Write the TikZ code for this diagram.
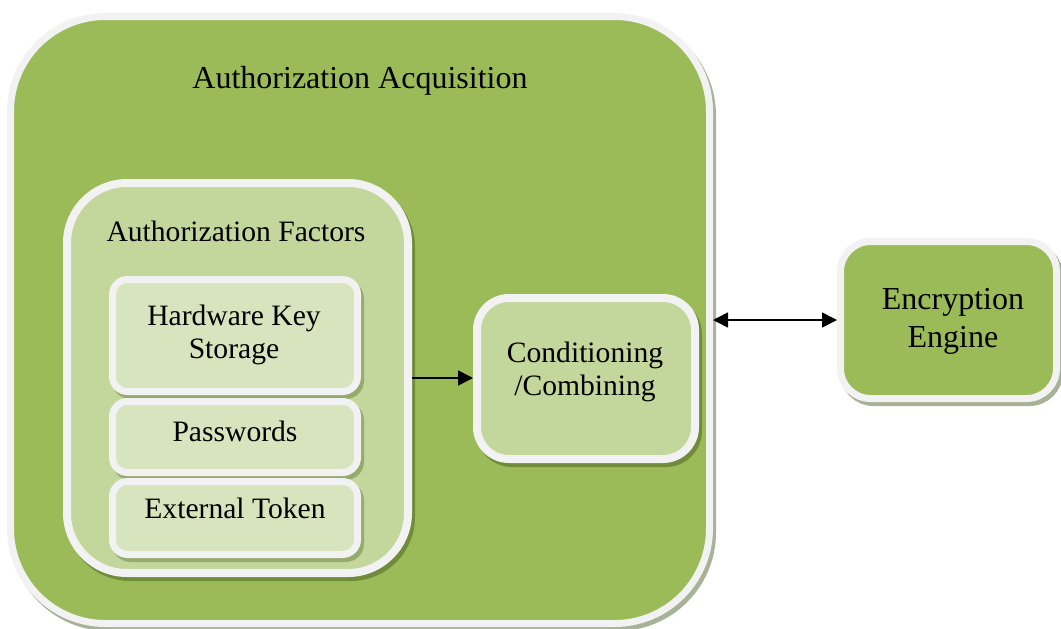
\documentclass[tikz,border=0pt]{standalone}
\usepackage{fontspec}
\setmainfont{Liberation Serif}
\usetikzlibrary{arrows.meta}
\definecolor{bord}{RGB}{242,242,242}
\definecolor{gA}{RGB}{155,187,89}
\definecolor{gB}{RGB}{195,214,155}
\definecolor{gC}{RGB}{215,228,189}
\definecolor{shW}{RGB}{168,178,150}
\definecolor{shG}{RGB}{112,140,58}
\definecolor{shL}{RGB}{150,170,110}
\begin{document}
\begin{tikzpicture}[x=1pt,y=-1pt,
  box/.style={draw=bord, inner sep=0pt, rectangle},
  dropsh/.style={preaction={draw=#1, fill=#1, transform canvas={xshift=3pt,yshift=-4pt}}},
  bigtxt/.style={font=\fontsize{32}{38}\selectfont, align=center, inner sep=0pt},
  txt/.style={font=\fontsize{29.6}{33}\selectfont, align=center, inner sep=0pt},
  arr/.style={line width=1.6pt, -{Triangle[length=15pt,width=15pt]}},
  darr/.style={line width=1.6pt, {Triangle[length=15pt,width=15pt]}-{Triangle[length=15pt,width=15pt]}}
]
\useasboundingbox (0,0) rectangle (1061,629);

% outer container
\node[box, line width=7pt, fill=gA, rounded corners=95pt, minimum width=699pt, minimum height=607pt, dropsh=shW] (acq) at (360,320) {};
\node[bigtxt, anchor=base] (acqT) at (360,88) {Authorization Acquisition};

% authorization factors group
\node[box, line width=8pt, fill=gB, rounded corners=60pt, minimum width=341pt, minimum height=390pt, dropsh=shG] (fac) at (237.5,378) {};
\node[txt, anchor=base] (facT) at (236,241) {Authorization Factors};

% factor items
\node[box, line width=7pt, fill=gC, rounded corners=15pt, minimum width=245pt, minimum height=112pt, dropsh=shL] (hw) at (235,335.5) {};
\node[box, line width=7pt, fill=gC, rounded corners=15pt, minimum width=245pt, minimum height=71pt, dropsh=shL] (pw) at (235,437) {};
\node[box, line width=7pt, fill=gC, rounded corners=15pt, minimum width=245pt, minimum height=73pt, dropsh=shL] (et) at (235,518) {};
\node[txt, anchor=base] (hwT) at (234,358) {Hardware Key\\Storage};
\node[txt, anchor=base] (pwT) at (235,441) {Passwords};
\node[txt, anchor=base] (etT) at (235,518) {External Token};

% conditioning
\node[box, line width=8pt, fill=gB, rounded corners=32pt, minimum width=218pt, minimum height=161pt, dropsh=shG] (cond) at (586,378.5) {};
\node[txt, anchor=base] (condT) at (585,395) {Conditioning\\/Combining};

% encryption engine
\node[box, line width=7pt, fill=gA, rounded corners=30pt, minimum width=216pt, minimum height=157pt, dropsh=shW] (enc) at (948.5,320) {};
\node[bigtxt, anchor=base] (encT) at (953,347) {Encryption\\Engine};

% connectors
\draw[arr] (fac.east) -- (fac.east -| cond.west);
\draw[darr] (acq.east) -- (enc.west);
\end{tikzpicture}
\end{document}
